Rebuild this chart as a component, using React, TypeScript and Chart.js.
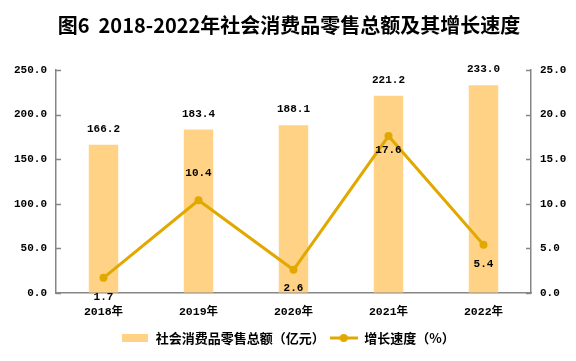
import React, { useEffect, useRef } from "react";
import { Chart, registerables } from "chart.js";

Chart.register(...registerables);

const chartTitle = "图6  2018-2022年社会消费品零售总额及其增长速度";
const categories = ["2018年", "2019年", "2020年", "2021年", "2022年"];
const retailSales = [166.2, 183.4, 188.1, 221.2, 233.0];
const growthRate = [1.7, 10.4, 2.6, 17.6, 5.4];
const barLegend = "社会消费品零售总额（亿元）";
const lineLegend = "增长速度（%）";

const BAR_COLOR = "#FFD285";
const LINE_COLOR = "#E1A900";
const AXIS_COLOR = "#868686";
const NUM_FONT = '"Liberation Mono", "Noto Sans CJK SC", monospace';

// vertical offsets of the growth-rate labels relative to their points
const lineLabelOffsets = [19, -27, 18, 14, 19];

export default function App() {
  const ref = useRef<HTMLCanvasElement | null>(null);

  useEffect(() => {
    if (!ref.current) return;

    const barIcon = document.createElement("canvas");
    barIcon.width = 26;
    barIcon.height = 8;
    const bctx = barIcon.getContext("2d")!;
    bctx.fillStyle = BAR_COLOR;
    bctx.fillRect(0, 0, 26, 8);

    const lineIcon = document.createElement("canvas");
    lineIcon.width = 28;
    lineIcon.height = 10;
    const lctx = lineIcon.getContext("2d")!;
    lctx.strokeStyle = LINE_COLOR;
    lctx.lineWidth = 3;
    lctx.beginPath();
    lctx.moveTo(0, 5);
    lctx.lineTo(28, 5);
    lctx.stroke();
    lctx.fillStyle = LINE_COLOR;
    lctx.beginPath();
    lctx.arc(14, 5, 4, 0, Math.PI * 2);
    lctx.fill();

    const titlePlugin = {
      id: "customTitle",
      afterDraw(chart: any) {
        const ctx = chart.ctx;
        ctx.save();
        ctx.font = 'bold 20px "Noto Sans CJK SC", sans-serif';
        ctx.fillStyle = "#000";
        ctx.textAlign = "center";
        ctx.textBaseline = "middle";
        ctx.fillText(chartTitle.replace(/ /g, "\u00A0"), 289, 25);
        ctx.restore();
      },
    };

    // tick marks pointing into the plot area
    const innerTicksPlugin = {
      id: "innerTicks",
      afterDraw(chart: any) {
        const ctx = chart.ctx;
        const area = chart.chartArea;
        ctx.save();
        ctx.strokeStyle = AXIS_COLOR;
        ctx.lineWidth = 1.5;
        const ys = chart.scales.y;
        ys.ticks.forEach((t: any) => {
          const py = Math.round(ys.getPixelForValue(t.value)) + 0.5;
          ctx.beginPath();
          ctx.moveTo(area.left, py);
          ctx.lineTo(area.left + 5, py);
          ctx.stroke();
        });
        const ys1 = chart.scales.y1;
        ys1.ticks.forEach((t: any) => {
          const py = Math.round(ys1.getPixelForValue(t.value)) + 0.5;
          ctx.beginPath();
          ctx.moveTo(area.right, py);
          ctx.lineTo(area.right - 5, py);
          ctx.stroke();
        });
        ctx.restore();
      },
    };

    const labelPlugin = {
      id: "valueLabels",
      afterDatasetsDraw(chart: any) {
        const ctx = chart.ctx;
        ctx.save();
        ctx.font = `bold 11px ${NUM_FONT}`;
        ctx.fillStyle = "#000";
        ctx.textAlign = "center";
        ctx.textBaseline = "middle";
        const barMeta = chart.getDatasetMeta(0);
        barMeta.data.forEach((el: any, i: number) => {
          ctx.fillText(retailSales[i].toFixed(1), el.x, el.y - 15.5);
        });
        const lineMeta = chart.getDatasetMeta(1);
        lineMeta.data.forEach((el: any, i: number) => {
          ctx.fillText(growthRate[i].toFixed(1), el.x, el.y + lineLabelOffsets[i]);
        });
        ctx.restore();
      },
    };

    const tickFont = { family: NUM_FONT, size: 11, weight: "bold" as const };

    const chart = new Chart(ref.current, {
      type: "bar",
      data: {
        labels: categories,
        datasets: [
          {
            type: "bar",
            label: barLegend,
            data: retailSales,
            backgroundColor: BAR_COLOR,
            borderWidth: 0,
            yAxisID: "y",
            order: 2,
            categoryPercentage: 1,
            barPercentage: 0.31,
          },
          {
            type: "line",
            label: lineLegend,
            data: growthRate,
            borderColor: LINE_COLOR,
            backgroundColor: LINE_COLOR,
            borderWidth: 3,
            pointRadius: 4,
            pointBackgroundColor: LINE_COLOR,
            pointBorderWidth: 0,
            tension: 0,
            yAxisID: "y1",
            order: 1,
          },
        ],
      },
      options: {
        responsive: false,
        animation: false,
        layout: { padding: { top: 70, bottom: 6.5, left: 0, right: 0 } },
        plugins: {
          title: { display: false },
          tooltip: { enabled: false },
          legend: {
            display: true,
            position: "bottom",
            labels: {
              usePointStyle: true,
              pointStyleWidth: 28,
              boxHeight: 10,
              padding: 5,
              color: "#000",
              font: { family: '"Noto Sans CJK SC", sans-serif', size: 13, weight: "bold" },
              generateLabels: () => [
                {
                  text: barLegend,
                  pointStyle: barIcon,
                  fillStyle: BAR_COLOR,
                  strokeStyle: BAR_COLOR,
                  lineWidth: 0,
                  hidden: false,
                  datasetIndex: 0,
                  fontColor: "#000",
                } as any,
                {
                  text: lineLegend,
                  pointStyle: lineIcon,
                  fillStyle: LINE_COLOR,
                  strokeStyle: LINE_COLOR,
                  lineWidth: 0,
                  hidden: false,
                  datasetIndex: 1,
                  fontColor: "#000",
                } as any,
              ],
            },
          },
        },
        scales: {
          x: {
            grid: { display: false, drawTicks: false },
            border: { display: true, color: AXIS_COLOR, width: 1.5 },
            ticks: {
              color: "#000",
              padding: 12,
              font: { family: NUM_FONT, size: 11.5, weight: "bold" },
            },
            afterFit: (s: any) => {
              s.height = 33.5;
            },
          },
          y: {
            position: "left",
            min: 0,
            max: 250,
            grid: { drawOnChartArea: false, drawTicks: false },
            border: { display: true, color: AXIS_COLOR, width: 1.5 },
            ticks: {
              stepSize: 50,
              color: "#000",
              padding: 9,
              font: tickFont,
              callback: (v: any) => Number(v).toFixed(1),
            },
            afterFit: (s: any) => {
              s.width = 56;
            },
          },
          y1: {
            position: "right",
            min: 0,
            max: 25,
            grid: { drawOnChartArea: false, drawTicks: false },
            border: { display: true, color: AXIS_COLOR, width: 1.5 },
            ticks: {
              stepSize: 5,
              color: "#000",
              padding: 9,
              font: tickFont,
              callback: (v: any) => Number(v).toFixed(1),
            },
            afterFit: (s: any) => {
              s.width = 45;
            },
          },
        },
      },
      plugins: [titlePlugin, innerTicksPlugin, labelPlugin],
    });

    return () => chart.destroy();
  }, []);

  return (
    <div style={{ position: "fixed", left: 0, top: 0, width: 576, height: 361, background: "#fff" }}>
      <canvas ref={ref} width={576} height={361} />
    </div>
  );
}
